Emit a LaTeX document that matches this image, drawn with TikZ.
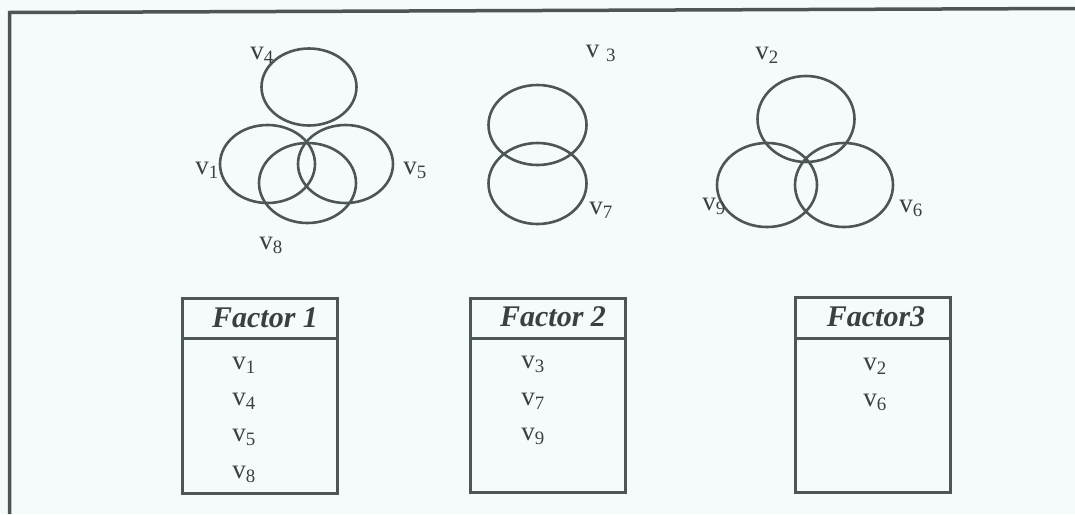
\documentclass[tikz,border=0pt]{standalone}
\usepackage{fontspec}
\setmainfont{Liberation Serif}
\definecolor{bg}{HTML}{F5FBFD}
\definecolor{ln}{HTML}{4E5557}
\definecolor{tx}{HTML}{3A3F42}
\newcommand{\vv}[1]{v\textsubscript{#1}}
\begin{document}
\begin{tikzpicture}[x=1pt,y=-1pt,
  ell/.style={draw=ln, line width=2.6pt},
  lab/.style={text=tx, font=\fontsize{27}{30}\selectfont, inner sep=0pt},
  boxframe/.style={draw=ln, line width=3pt},
  head/.style={text=tx, font=\fontsize{30}{33}\selectfont\bfseries\itshape, inner sep=0pt}]
\fill[bg] (0,0) rectangle (1075,514);
\useasboundingbox (0,0) rectangle (1075,514);
% frame
\draw[ln, line width=3.5pt] (9.5,514) -- (9.5,12.5) -- (1075,8.5);

% group 1
\draw[ell] (309,87) ellipse [x radius=47.5, y radius=38.5];
\draw[ell] (267.5,164) ellipse [x radius=47.5, y radius=39];
\draw[ell] (345.5,164) ellipse [x radius=47.5, y radius=39];
\draw[ell] (307.5,183) ellipse [x radius=48.5, y radius=40];
\node[lab] (l4) at (262,55) {\vv{4}};
\node[lab] (l1) at (207,170) {\vv{1}};
\node[lab] (l5) at (415,170) {\vv{5}};
\node[lab] (l8) at (271,245) {\vv{8}};

% group 2
\draw[ell] (537.5,125) ellipse [x radius=49, y radius=40];
\draw[ell] (537.5,183.5) ellipse [x radius=49, y radius=40.5];
\node[lab] (l3) at (601,53) {v \textsubscript{3}};
\node[lab] (l7) at (601,210) {\vv{7}};

% group 3
\draw[ell] (806,119) ellipse [x radius=48.5, y radius=43];
\draw[ell] (767,185) ellipse [x radius=50, y radius=42];
\draw[ell] (844,185) ellipse [x radius=49, y radius=42];
\node[lab] (l2) at (767,55) {\vv{2}};
\node[lab] (l9) at (714,206) {\vv{9}};
\node[lab] (l6) at (911,208) {\vv{6}};

% boxes
\draw[boxframe] (182,298) rectangle (337,493);
\draw[boxframe] (182,338) -- (337,338);
\node[head] (f1) at (265,318) {Factor 1};
\node[lab] (b1a) at (244,365) {\vv{1}};
\node[lab] (b1b) at (244,401) {\vv{4}};
\node[lab] (b1c) at (244,437) {\vv{5}};
\node[lab] (b1d) at (244,474) {\vv{8}};

\draw[boxframe] (470,298) rectangle (625,492);
\draw[boxframe] (470,338) -- (625,338);
\node[head] (f2) at (553,317) {Factor 2};
\node[lab] (b2a) at (533,364) {\vv{3}};
\node[lab] (b2b) at (533,401) {\vv{7}};
\node[lab] (b2c) at (533,436) {\vv{9}};

\draw[boxframe] (795,297) rectangle (950,492);
\draw[boxframe] (795,338) -- (950,338);
\node[head] (f3) at (876,317) {Factor3};
\node[lab] (b3a) at (875,366) {\vv{2}};
\node[lab] (b3b) at (875,402) {\vv{6}};
\end{tikzpicture}
\end{document}
